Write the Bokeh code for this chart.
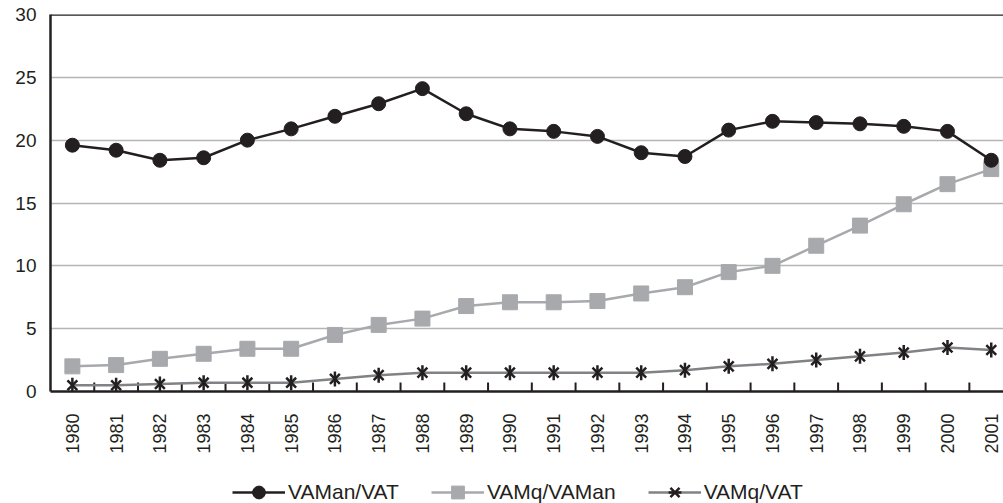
import math
from bokeh.plotting import figure
from bokeh.layouts import column
from bokeh.models import (ColumnDataSource, FixedTicker, Span, Legend, LegendItem,
                          Range1d)
from bokeh.embed import file_html
from bokeh.resources import INLINE

# Years on the category axis
years = [1980, 1981, 1982, 1983, 1984, 1985, 1986, 1987, 1988, 1989, 1990,
         1991, 1992, 1993, 1994, 1995, 1996, 1997, 1998, 1999, 2000, 2001]

# Series values (percent)
vaman_vat = [19.6, 19.2, 18.4, 18.6, 20.0, 20.9, 21.9, 22.9, 24.1, 22.1, 20.9,
             20.7, 20.3, 19.0, 18.7, 20.8, 21.5, 21.4, 21.3, 21.1, 20.7, 18.4]
vamq_vaman = [2.0, 2.1, 2.6, 3.0, 3.4, 3.4, 4.5, 5.3, 5.8, 6.8, 7.1,
              7.1, 7.2, 7.8, 8.3, 9.5, 10.0, 11.6, 13.2, 14.9, 16.5, 17.7]
vamq_vat = [0.5, 0.5, 0.6, 0.7, 0.7, 0.7, 1.0, 1.3, 1.5, 1.5, 1.5,
            1.5, 1.5, 1.5, 1.7, 2.0, 2.2, 2.5, 2.8, 3.1, 3.5, 3.3]

series_names = ["VAMan/VAT", "VAMq/VAMan", "VAMq/VAT"]
y_ticks = [0, 5, 10, 15, 20, 25, 30]

DARK = "#231f20"
LIGHT = "#a7a9ac"
MID = "#808285"
FONT = "Liberation Sans"

idx = list(range(len(years)))
src = ColumnDataSource(dict(x=idx, a=vaman_vat, b=vamq_vaman, c=vamq_vat,
                            tx=[i + 0.5 for i in idx], t0=[0] * len(idx),
                            t1=[0.72] * len(idx)))

p = figure(width=1003, height=460, output_backend="svg", toolbar_location=None,
           x_range=Range1d(-0.5, 21.28), y_range=Range1d(0, 30),
           min_border_left=50, min_border_right=0, min_border_top=14,
           min_border_bottom=69)
p.outline_line_color = None
p.background_fill_color = "white"
p.border_fill_color = "white"

# Axes
p.xaxis.ticker = FixedTicker(ticks=idx)
p.xaxis.major_label_overrides = {i: str(y) for i, y in zip(idx, years)}
p.xaxis.major_label_orientation = math.pi / 2
p.xaxis.major_tick_line_color = None
p.xaxis.minor_tick_line_color = None
p.xaxis.major_label_standoff = 16
p.xaxis.major_label_text_font_size = "18px"
p.yaxis.ticker = FixedTicker(ticks=y_ticks)
p.yaxis.major_tick_line_color = None
p.yaxis.minor_tick_line_color = None
p.yaxis.major_label_standoff = 8
p.yaxis.major_label_text_font_size = "19px"
for ax in (p.xaxis, p.yaxis):
    ax.axis_line_color = DARK
    ax.axis_line_width = 2.5
    ax.major_label_text_font = FONT
    ax.major_label_text_color = DARK

p.xgrid.grid_line_color = None
p.ygrid.grid_line_color = "#b5b5b5"
p.ygrid.grid_line_width = 1.5

# Top border of the plot area
p.add_layout(Span(location=30, dimension="width", line_color=DARK, line_width=2.5))

# Inward tick marks between the year categories
p.segment(x0="tx", y0="t0", x1="tx", y1="t1", source=src, line_color=DARK,
          line_width=2)

# Series
line_b = dict(line_color=LIGHT, line_width=2.5)
mark_b = dict(marker="square", size=15, fill_color=LIGHT, line_color=LIGHT)
line_c = dict(line_color=MID, line_width=2.5)
mark_c1 = dict(marker="x", size=14, line_color=DARK, line_width=2.5)
mark_c2 = dict(marker="dash", size=15, angle=math.pi / 2, line_color=DARK,
               line_width=2.5)
line_a = dict(line_color=DARK, line_width=2.5)
mark_a = dict(marker="circle", size=14, fill_color=DARK, line_color=DARK)

p.line("x", "b", source=src, **line_b)
p.scatter("x", "b", source=src, **mark_b)
p.line("x", "c", source=src, **line_c)
p.scatter("x", "c", source=src, **mark_c1)
p.scatter("x", "c", source=src, **mark_c2)
p.line("x", "a", source=src, **line_a)
p.scatter("x", "a", source=src, **mark_a)

# Legend strip underneath the chart; its key glyphs sit outside the visible range
leg = figure(width=1003, height=43, output_backend="svg", toolbar_location=None,
             x_range=Range1d(0, 1), y_range=Range1d(0, 1), min_border=0)
leg.axis.visible = False
leg.grid.visible = False
leg.outline_line_color = None
offscreen = ColumnDataSource(dict(x=[-10], y=[-10]))
ra = [leg.line("x", "y", source=offscreen, **line_a),
      leg.scatter("x", "y", source=offscreen, **mark_a)]
rb = [leg.line("x", "y", source=offscreen, **line_b),
      leg.scatter("x", "y", source=offscreen, **mark_b)]
rc = [leg.line("x", "y", source=offscreen, **line_c),
      leg.scatter("x", "y", source=offscreen, **mark_c1),
      leg.scatter("x", "y", source=offscreen, **mark_c2)]

legend = Legend(items=[LegendItem(label=series_names[0], renderers=ra),
                       LegendItem(label=series_names[1], renderers=rb),
                       LegendItem(label=series_names[2], renderers=rc)],
                orientation="horizontal", location=(182, -5))
legend.border_line_color = None
legend.background_fill_alpha = 0
legend.padding = 0
legend.margin = 0
legend.spacing = 32
legend.glyph_width = 53
legend.glyph_height = 32
legend.label_standoff = 3
legend.label_text_font = FONT
legend.label_text_font_size = "21px"
legend.label_text_color = DARK
leg.add_layout(legend)

layout = column(p, leg, spacing=0)
open("out.html", "w").write(file_html(layout, INLINE))
